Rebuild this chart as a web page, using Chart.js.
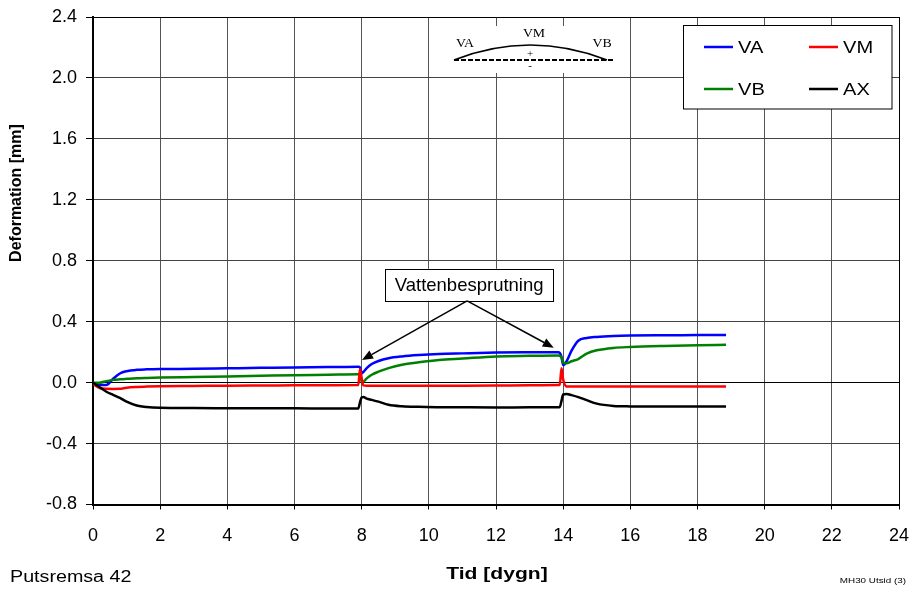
<!DOCTYPE html>
<html><head><meta charset="utf-8">
<script src="https://cdn.jsdelivr.net/npm/chart.js@4.4.0/dist/chart.umd.min.js"></script>
<style>html,body{margin:0;padding:0;background:#fff;overflow:hidden}</style>
</head><body>
<canvas id="c" width="914" height="589" style="width:914px;height:589px;display:block"></canvas>
<script>
// ---- data ----
const tid = [0, 0.2, 0.4, 0.6, 0.8, 1.0, 1.3, 1.6, 2, 3, 4, 5, 6, 7, 7.9,
  7.95, 8.0, 8.05, 8.15, 8.3, 8.5, 8.8, 9.2, 9.7, 10.3, 11, 12, 13, 13.85,
  13.9, 13.95, 14.0, 14.1, 14.25, 14.45, 14.7, 15, 15.5, 16, 17, 18, 18.85];
const VA = [0, -0.015, -0.015, 0.025, 0.06, 0.075, 0.084, 0.087, 0.089, 0.091, 0.094, 0.097, 0.1, 0.102, 0.105,
  0.1, 0.062, 0.07, 0.095, 0.122, 0.142, 0.16, 0.172, 0.181, 0.188, 0.192, 0.197, 0.199, 0.2,
  0.195, 0.17, 0.115, 0.14, 0.21, 0.275, 0.293, 0.3, 0.306, 0.309, 0.311, 0.312, 0.313];
const VM = [-0.01, -0.035, -0.041, -0.042, -0.041, -0.033, -0.028, -0.026, -0.024, -0.022, -0.02, -0.019, -0.018, -0.017, -0.016,
  0.09, 0.03, -0.018, -0.02, -0.02, -0.02, -0.02, -0.02, -0.02, -0.02, -0.02, -0.019, -0.017, -0.016,
  -0.015, 0.095, 0.02, -0.025, -0.026, -0.026, -0.026, -0.026, -0.026, -0.026, -0.026, -0.026, -0.026];
const VB = [0, 0.0, 0.01, 0.018, 0.022, 0.025, 0.029, 0.031, 0.033, 0.037, 0.041, 0.045, 0.049, 0.052, 0.055,
  0.05, 0.008, 0.008, 0.028, 0.052, 0.072, 0.095, 0.117, 0.133, 0.148, 0.158, 0.172, 0.176, 0.178,
  0.175, 0.165, 0.13, 0.128, 0.14, 0.155, 0.19, 0.212, 0.228, 0.234, 0.241, 0.246, 0.248];
const AX = [0, -0.03, -0.06, -0.08, -0.1, -0.125, -0.15, -0.16, -0.165, -0.167, -0.168, -0.169, -0.169, -0.17, -0.17,
  -0.13, -0.097, -0.095, -0.105, -0.113, -0.125, -0.145, -0.155, -0.159, -0.161, -0.162, -0.163, -0.162, -0.161,
  -0.16, -0.12, -0.078, -0.075, -0.082, -0.095, -0.115, -0.138, -0.153, -0.156, -0.157, -0.157, -0.157];

const seriesNames = ['VA', 'VM', 'VB', 'AX'];
const seriesColors = ['#0000ff', '#ff0000', '#008000', '#000000'];
const yTitle = 'Deformation [mm]';
const xTitle = 'Tid [dygn]';
const footLeft = 'Putsremsa 42';
const footRight = 'MH30 Utsid (3)';
const noteText = 'Vattenbesprutning';
const xMin = 0, xMax = 24, xStep = 2;
const yMin = -0.8, yMax = 2.4, yStep = 0.4;

const allSeries = [VA, VM, VB, AX];
const datasets = allSeries.map((arr, i) => ({
  label: seriesNames[i],
  data: tid.map((t, j) => ({x: t, y: arr[j]})),
  borderColor: seriesColors[i],
  backgroundColor: seriesColors[i],
  borderWidth: 2.5,
  pointRadius: 0,
  fill: false,
  cubicInterpolationMode: 'monotone',
  order: [3, 1, 2, 0][i]
}));

const SANS = '"Liberation Sans", Arial, Helvetica, sans-serif';
const SERIF = '"Liberation Serif", "Times New Roman", serif';

function sText(ctx, txt, x, y, font, sx, align) {
  ctx.save();
  ctx.font = font;
  ctx.textAlign = align || 'left';
  ctx.textBaseline = 'middle';
  ctx.translate(x, y);
  ctx.scale(sx, 1);
  ctx.fillText(txt, 0, 0);
  ctx.restore();
}
function arrow(ctx, x0, y0, x1, y1) {
  const a = Math.atan2(y1 - y0, x1 - x0), L = 11, W = 4.5;
  ctx.beginPath(); ctx.moveTo(x0, y0);
  ctx.lineTo(x1 - L * Math.cos(a), y1 - L * Math.sin(a)); ctx.stroke();
  ctx.beginPath();
  ctx.moveTo(x1, y1);
  ctx.lineTo(x1 - L * Math.cos(a) + W * Math.sin(a), y1 - L * Math.sin(a) - W * Math.cos(a));
  ctx.lineTo(x1 - L * Math.cos(a) - W * Math.sin(a), y1 - L * Math.sin(a) + W * Math.cos(a));
  ctx.closePath(); ctx.fill();
}

const overlay = {
  id: 'overlay',
  afterDraw(chart) {
    const ctx = chart.ctx, xs = chart.scales.x, ys = chart.scales.y;
    ctx.save();
    ctx.fillStyle = '#000'; ctx.strokeStyle = '#000';
    // axis titles
    ctx.save();
    ctx.translate(17, 193); ctx.rotate(-Math.PI / 2);
    ctx.font = 'bold 16px ' + SANS; ctx.textAlign = 'center'; ctx.textBaseline = 'middle';
    ctx.fillText(yTitle, 0, 0);
    ctx.restore();
    sText(ctx, xTitle, 497, 574, 'bold 17px ' + SANS, 1.24, 'center');
    sText(ctx, footLeft, 10, 578, '16px ' + SANS, 1.23, 'left');
    sText(ctx, footRight, 906, 581, '8px ' + SANS, 1.23, 'right');

    // legend box
    ctx.fillStyle = '#fff';
    ctx.fillRect(683, 25.5, 209, 83.5);
    ctx.lineWidth = 1; ctx.strokeStyle = '#000';
    ctx.strokeRect(683.5, 25.5, 208.5, 83.5);
    const lx = [704, 809], ly = [47, 89];
    chart.data.datasets.forEach((ds, i) => {
      const cx = lx[i % 2], cy = ly[Math.floor(i / 2)];
      ctx.strokeStyle = ds.borderColor; ctx.lineWidth = 2.5;
      ctx.beginPath(); ctx.moveTo(cx, cy); ctx.lineTo(cx + 29, cy); ctx.stroke();
      ctx.fillStyle = '#000';
      sText(ctx, ds.label, cx + 34, cy + 1, '17px ' + SANS, 1.18, 'left');
    });

    // beam diagram
    ctx.fillStyle = '#fff';
    ctx.fillRect(446, 26, 176, 47);
    ctx.strokeStyle = '#000'; ctx.fillStyle = '#000';
    ctx.lineWidth = 1.5;
    ctx.beginPath(); ctx.moveTo(454, 60); ctx.quadraticCurveTo(530, 30, 607, 60); ctx.stroke();
    ctx.lineWidth = 2; ctx.setLineDash([5, 2]);
    ctx.beginPath(); ctx.moveTo(454, 60); ctx.lineTo(615, 60); ctx.stroke();
    ctx.setLineDash([]);
    sText(ctx, 'VA', 465, 44, '12px ' + SERIF, 1.15, 'center');
    sText(ctx, 'VM', 534, 34, '12px ' + SERIF, 1.15, 'center');
    sText(ctx, 'VB', 602, 44, '12px ' + SERIF, 1.15, 'center');
    sText(ctx, '+', 530, 54, '11px ' + SERIF, 1, 'center');
    sText(ctx, '-', 530, 66, '11px ' + SERIF, 1, 'center');

    // annotation
    const bx = xs.getPixelForValue(11.2), by = ys.getPixelForValue(0.642);
    const bw = 168, bh = 32;
    ctx.fillStyle = '#fff';
    ctx.fillRect(bx - bw / 2, by - bh / 2, bw, bh);
    ctx.strokeStyle = '#000'; ctx.lineWidth = 1;
    ctx.strokeRect(Math.round(bx - bw / 2) + 0.5, Math.round(by - bh / 2) + 0.5, bw, bh);
    ctx.fillStyle = '#000';
    sText(ctx, noteText, bx, by + 1, '18.5px ' + SANS, 1, 'center');
    ctx.lineWidth = 1.5;
    const sx0 = bx - 2, sy0 = by + bh / 2;
    arrow(ctx, sx0, sy0, xs.getPixelForValue(8.01), ys.getPixelForValue(0.149));
    arrow(ctx, sx0, sy0, xs.getPixelForValue(13.72), ys.getPixelForValue(0.229));
    ctx.restore();
  }
};

const isV = (v, t) => Math.abs(v - t) < 1e-9;

new Chart(document.getElementById('c'), {
  type: 'line',
  data: {datasets},
  plugins: [overlay],
  options: {
    responsive: false, animation: false, devicePixelRatio: 1,
    layout: {padding: {top: 17, right: 15, left: 0, bottom: 0}},
    plugins: {legend: {display: false}, tooltip: {enabled: false}},
    scales: {
      x: {
        type: 'linear', min: xMin, max: xMax,
        ticks: {stepSize: xStep, color: '#000', font: {family: SANS, size: 18}, padding: 16, maxRotation: 0, autoSkip: false},
        grid: {color: c => (c.tick && isV(c.tick.value, xMax)) ? '#000' : '#555', lineWidth: 1, tickLength: 5, tickColor: '#000'},
        border: {color: '#000', width: 2},
        afterFit: s => { s.height = 84.5; s.paddingLeft = 0; s.paddingRight = 0; }
      },
      y: {
        min: yMin, max: yMax,
        ticks: {stepSize: yStep, color: '#000', font: {family: SANS, size: 18}, padding: 9,
          callback: v => (Math.abs(v) < 1e-9 ? 0 : v).toFixed(1)},
        grid: {color: c => (c.tick && (isV(c.tick.value, 0) || isV(c.tick.value, yMax))) ? '#000' : '#444',
          lineWidth: 1, tickLength: 7, tickColor: '#000'},
        border: {color: '#000', width: 2},
        afterFit: s => { s.width = 93; s.paddingTop = 0; s.paddingBottom = 0; }
      }
    }
  }
});
</script>
</body></html>
